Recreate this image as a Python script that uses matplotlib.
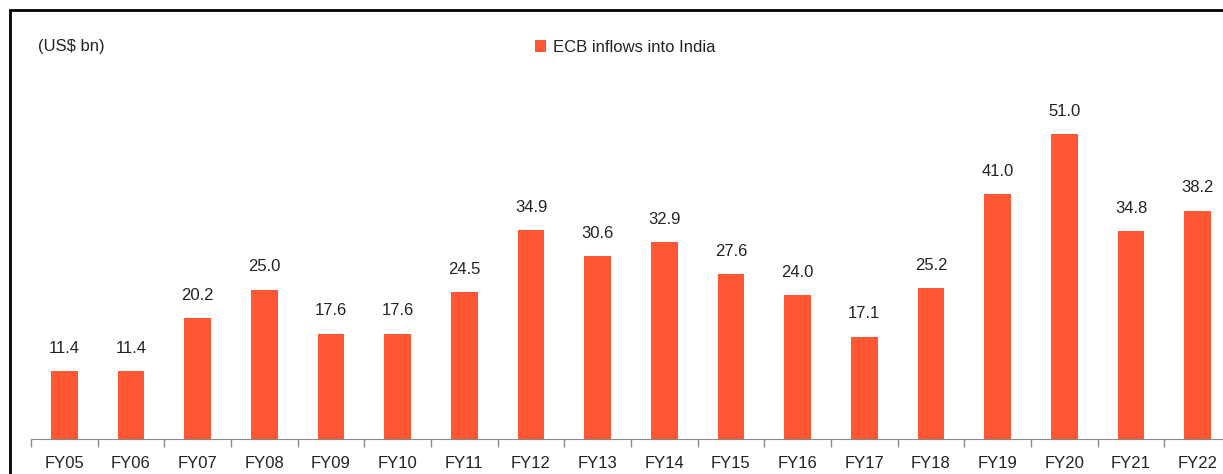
import matplotlib
matplotlib.use("Agg")
import matplotlib.pyplot as plt
from matplotlib.patches import Rectangle

plt.rcParams['font.family'] = ['Liberation Sans Narrow', 'Liberation Sans', 'DejaVu Sans']

# data
years = ['FY05', 'FY06', 'FY07', 'FY08', 'FY09', 'FY10', 'FY11', 'FY12', 'FY13',
         'FY14', 'FY15', 'FY16', 'FY17', 'FY18', 'FY19', 'FY20', 'FY21', 'FY22']
ecb_inflows = [11.4, 11.4, 20.2, 25.0, 17.6, 17.6, 24.5, 34.9, 30.6,
               32.9, 27.6, 24.0, 17.1, 25.2, 41.0, 51.0, 34.8, 38.2]

bar_color = '#FF5733'
text_color = '#222222'

fig = plt.figure(figsize=(12.23, 4.74), dpi=100)

# black frame around the chart (runs off the right/bottom edge as in the source)
fig.patches.append(Rectangle((10.5 / 1223, -0.05), 1.1, 1.05 - 10.5 / 474 + 0.0,
                             transform=fig.transFigure, fill=False,
                             edgecolor='black', linewidth=2))

ax = fig.add_axes([31 / 1223, 35 / 474, 1200 / 1223, 60 * 5.98 / 474])
x = range(len(years))
bars = ax.bar(x, ecb_inflows, width=0.4, color=bar_color, label='ECB inflows into India')
for xi, v in zip(x, ecb_inflows):
    ax.annotate(f'{v:.1f}', (xi, v), xytext=(0, 11), textcoords='offset points',
                ha='center', va='bottom', fontsize=12, color=text_color)

ax.set_xlim(-0.5, len(years) - 0.5)
ax.set_ylim(0, 60)
ax.set_xticks(x)
ax.set_xticklabels(years, fontsize=12, color=text_color)
ax.set_xticks([i - 0.5 for i in range(len(years) + 1)], minor=True)
ax.tick_params(axis='x', which='major', length=0, pad=12)
ax.tick_params(axis='x', which='minor', length=6, color='#888888', width=1)
ax.set_yticks([])
for s in ('top', 'right', 'left'):
    ax.spines[s].set_visible(False)
ax.spines['bottom'].set_color('#888888')

fig.text(38 / 1223, 1 - 47 / 474, '(US$ bn)', fontsize=12, color=text_color, va='center')
fig.legend(loc='center', bbox_to_anchor=(625 / 1223, 1 - 47 / 474), frameon=False,
           fontsize=12, handlelength=0.7, handleheight=0.7, handletextpad=0.4,
           labelcolor=text_color)

fig.savefig('out.png', dpi=100)
